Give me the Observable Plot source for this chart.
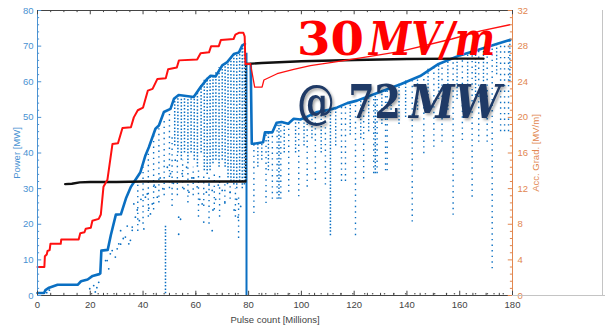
<!DOCTYPE html>
<html><head><meta charset="utf-8">
<script src="https://cdn.jsdelivr.net/npm/d3@7"></script>
<script src="https://cdn.jsdelivr.net/npm/@observablehq/plot@0.6"></script>
<style>
body{margin:0;background:#fff;}
#wrap{position:relative;width:605px;height:327px;overflow:hidden;background:#fff;}
.fr{position:absolute;background:#c4c4c4;}
</style></head><body><div id="wrap"></div>
<script>
// ---- tick labels ----
const xTicks = [0, 20, 40, 60, 80, 100, 120, 140, 160, 180];
const powerTicks = [0, 10, 20, 30, 40, 50, 60, 70, 80];
const gradTicks = [0, 4, 8, 12, 16, 20, 24, 28, 32];
const xMinor = [5,10,15,25,30,35,45,50,55,65,70,75,85,90,95,105,110,115,125,130,135,145,150,155,165,170,175];
const powerMinor = [2,4,6,8,12,14,16,18,22,24,26,28,32,34,36,38,42,44,46,48,52,54,56,58,62,64,66,68,72,74,76,78];
const gradMinor = [0.8,1.6,2.4,3.2,4.8,5.6,6.4,7.2,8.8,9.6,10.4,11.2,12.8,13.6,14.4,15.2,16.8,17.6,18.4,19.2,20.8,21.6,22.4,23.2,24.8,25.6,26.4,27.2,28.8,29.6,30.4,31.2];

// ---- accelerating gradient (red, MV/m) ----
const redX = [0, 2.6, 2.8, 3.5, 3.8, 4.6, 4.9, 8.8, 9.0, 15.6, 16.2, 17.8, 18.3, 20.2, 20.8, 23.2, 24.0, 25.0, 26.5, 28.4, 30.5, 32.2, 35.4, 36.5, 38.0, 40.0, 41.8, 43.6, 45.4, 48.6, 49.5, 52.8, 53.6, 60.5, 61.8, 65.0, 65.8, 68.7, 69.5, 74.3, 75.0, 76.3, 78.0, 78.5, 78.8, 80.7, 82.3, 85.1, 85.8, 90.8, 97.1, 103.4, 112.3, 124.9, 137.6, 157, 168, 179];
const redG = [3.2, 3.2, 4.4, 4.6, 5.0, 5.1, 5.8, 5.8, 6.3, 6.3, 7.0, 7.1, 7.5, 7.6, 8.4, 8.6, 9.1, 12.2, 13.0, 17.0, 17.1, 18.8, 18.9, 20.0, 20.8, 21.1, 23.0, 23.2, 24.3, 24.4, 25.4, 25.6, 26.4, 26.5, 27.2, 27.3, 28.0, 28.0, 28.7, 28.8, 29.3, 29.5, 29.5, 29.1, 26.0, 26.0, 23.4, 23.4, 24.2, 24.9, 25.4, 25.8, 26.2, 26.8, 27.4, 28.8, 29.7, 30.4];

// ---- gradient plateau (black, MV/m) ----
const blackX1 = [10.5, 13, 16, 20, 30, 40, 50, 60, 70, 78.8];
const blackG1 = [12.5, 12.55, 12.7, 12.75, 12.75, 12.8, 12.8, 12.8, 12.8, 12.8];
const blackX2 = [79.0, 85, 100, 120, 140, 160, 169];
const blackG2 = [26.0, 26.1, 26.3, 26.45, 26.55, 26.6, 26.6];

// ---- power envelope (blue, MW) ----
const powX1 = [0, 2.5, 3.0, 4.4, 7.6, 15.2, 16.5, 19, 20.9, 23.4, 23.8, 24.2, 26.6, 27.8, 29.7, 31.6, 33.5, 35.4, 36.7, 39, 40.9, 42.2, 44.7, 46, 47.9, 50.4, 51.7, 53.5, 59.2, 61.8, 64.3, 65.6, 67.5, 70, 71.9, 74.4, 76.3, 77.6, 78.6];
const powP1 = [0.7, 0.7, 1.5, 2.2, 3.0, 3.0, 4.0, 4.5, 5.5, 6.0, 6.2, 12.6, 12.8, 17, 22.7, 22.8, 27.2, 30.5, 32, 34.6, 39.3, 41.6, 46.8, 47.7, 51.5, 52.4, 55.2, 56.3, 55.7, 58.5, 60.8, 61.7, 61.5, 64.6, 65.5, 67.8, 68.2, 70.2, 70.6];
const powX2 = [80.8, 81.2, 82, 85.5, 86.2, 89, 90.6, 92.5, 95, 97.1, 99.6, 102.2, 106, 111, 113.6, 117.4, 121.1, 130, 137.6, 145, 152, 160, 168, 174, 179.2];
const powP2 = [65, 42.6, 42.6, 43, 45.8, 45.8, 48.5, 48.7, 48.2, 49.6, 49.4, 50.2, 51.5, 52.2, 52.8, 54, 54.7, 57.2, 59.3, 61.6, 65.0, 67.4, 69.2, 70.6, 71.8];

// ---- breakdown streaks of power samples: [pulse count, low MW, high MW] ----
const denseStreaks = [
  [52.0,42,55],[53.2,40,56],[54.5,38,55.5],[55.7,40,55.5],[57.0,37,55.5],[58.2,40,55.5],[59.4,38,56],[60.6,36,57],
  [62.0,40,59],[63.2,35,60.5],[64.3,34,61],[65.4,35,61.5],[66.5,37,62],[67.6,38,62.5],[68.8,36,64],[70.0,38,64.6],
  [71.1,36,65.3],[72.2,33,66],[73.3,32,67],[74.4,31,67.8],[75.5,30,68],[76.6,32,68.5],[77.6,30,70],[78.4,31,70.5],
  [48.5,0.5,19.5],[111.0,16.8,52.2],[91.5,27,48.6],[128.0,34.2,56]
];
const sparseStreaks = [
  [38,18,32],[40,20,36],[42,22,40],[44,24,45],[46,26,47],[48,28,50],[50,30,52],[51,25,45],[53,28,40],[55,30,38],
  [57,26,37],[59,28,36],[61,22,35],[63,25,34],[65,20,33],[67,24,35],[69,22,34],[71,26,32],[73,27,31],[75,22,30],[76.2,16,28],
  [82.0,23,42.5],[86.6,25.8,45.5],[89.0,27,45.8],[90.8,27,48.5],[92.2,27,48.7],[95.2,29,48.2],[99.0,27.7,49.4],
  [102.2,30.4,50.1],[105.3,32.3,51.3],[109.1,31,52],[115.2,32,53.3],[116.7,32,53.6],[120.5,16.8,54.5],[123.6,32.7,55],
  [127.4,34.2,56],[128.7,34.2,56.2],[131.9,35,57.5],[132.5,35,57.8],[142.0,20.6,61.5],[146.4,39.8,63],[150.2,41.6,64.3],
  [153.3,43,65.5],[157.5,22.5,66.6],[161.0,43.5,67.7],[164.7,27.6,68.5],[167.2,43,69],[170.4,43,69.8],[172.3,7.5,70.2],
  [175.5,46,70.9],[177,46,71.2],[178.5,46,71.5]
];
const bandStreaks = [
  [83.5,36,42.6],[85,38,43],[87.5,35,45.8],[93.5,40,48.5],[97.8,40,49.5],[101,42,50],[104,44,51],[107.5,40,51.8],
  [113,42,52.6],[118.5,45,54.2],[122.5,44,55],[125.5,46,56],[130.5,48,57.3],[134,50,58.5],[137,48,59.3],[139.5,50,60.2],
  [144,52,61.4],[148,54,63.5],[152,55,65],[155.5,52,66],[159,55,67],[163,58,68],[166,56,68.8],[169,60,69.5],[174,62,70.6],[179,60,71.8]
];
// ---- isolated power samples: [pulse count, MW] ----
const dotX = [19.8,21.3,21.9,23.2,22.5,25.8,26.4,27.0,27.6,28.3,29.5,30.2,30.8,31.5,31.5,32.5,33.3,34.0,34.6,35.2,35.9,35.9,36.5,37.1,37.8,38.6,39.2,40.3,40.9,41.6,42.2,42.8,43.5,44.2,44.7,45.4,46.5,47.5,49.2,50.4,51.5,52.2,53.5,53.5,54.2,54.8,55.5,56.5,57.4,58.5,59.2,60.5,61.5,62.4,63.0,64,65,66.2,66.2,66.5,67.5,68.5,70.0,71,72,73,74.5,75.5,76,77,3.5,4.5];
const dotP = [1.9,2.8,1.0,3.7,2.2,9.8,9.8,7.5,11.7,12.6,10.8,13.1,14.5,18.2,14.4,16.0,16.4,19.5,14.5,15.5,18.3,19.2,25.7,22.0,24.0,21,27,18.7,27.6,28.5,24.5,22.9,25.7,31,30.4,27.6,33,30,36,34.2,31.5,38,22.0,17.2,21.4,34.2,30,36,29.0,33,33.0,30.5,27,25.7,20.6,29,31,18.2,29.5,24,27,31,29.5,26,31.5,29,24,27,22,25,0.8,1.5];
const baseX = [20.5,23,26.5,29,33,36.5,41,44,48,52.5,57,60,64.5,68,72.5,76,84,86.5,91,95.5,99,103,107.5,112,115,119.5,124,127,131.5,135,139.5,143,147,150.5,155,158,162.5,166,170.5,173,176.5];

const K = 80 / 32; // MW per MV/m on the shared vertical axis
const BLUE = "#0a6fc2", LB = "#4a92d2", OR = "#e2874f", AX = "#444";
const pts = (xs, ys) => xs.map((x, i) => ({x, y: ys[i]}));
const red = pts(redX, redG.map(g => g * K));
const redA = red.filter(d => d.x <= 80.7), redB = red.filter(d => d.x >= 80.7);
const black1 = pts(blackX1, blackG1.map(g => g * K));
const black2 = pts(blackX2, blackG2.map(g => g * K));
const pow1 = pts(powX1, powP1), pow2 = pts(powX2, powP2);
const dots = pts(dotX, dotP);
const base = baseX.map(x => ({x, y: 0.5}));
const sx = d => d[0], sy1 = d => d[1], sy2 = d => d[2];

const chart = Plot.plot({
  width: 605, height: 327,
  marginTop: 10, marginBottom: 32, marginLeft: 37, marginRight: 93,
  x: {domain: [0, 180]},
  y: {domain: [0, 80]},
  style: {fontFamily: "'Liberation Sans', Arial, sans-serif", fontSize: "9.5px", background: "white"},
  marks: [
    Plot.ruleX(sparseStreaks, {x: sx, y1: sy1, y2: sy2, stroke: BLUE, strokeWidth: 1.4, strokeDasharray: "1.4,4.2"}),
    Plot.ruleX(bandStreaks, {x: sx, y1: sy1, y2: sy2, stroke: BLUE, strokeWidth: 1.4, strokeDasharray: "1.4,2.2"}),
    Plot.ruleX(denseStreaks, {x: sx, y1: sy1, y2: sy2, stroke: BLUE, strokeWidth: 1.5, strokeDasharray: "1.5,1.8"}),
    Plot.dot(dots, {x: "x", y: "y", r: 0.9, fill: BLUE}),
    Plot.dot(base, {x: "x", y: "y", r: 0.8, fill: "#555"}),
    Plot.ruleX([79.2], {y1: 0, y2: 68, stroke: BLUE, strokeWidth: 2}),
    Plot.line(pow1, {x: "x", y: "y", stroke: BLUE, strokeWidth: 2.6}),
    Plot.line(pow2, {x: "x", y: "y", stroke: BLUE, strokeWidth: 2.6}),
    Plot.ruleX([78.9], {y1: blackG1[blackG1.length - 1] * K, y2: blackG2[0] * K, stroke: "#111", strokeWidth: 1.5, strokeDasharray: "1.5,1.5"}),
    Plot.line(black1, {x: "x", y: "y", stroke: "#111", strokeWidth: 2.4}),
    Plot.line(black2, {x: "x", y: "y", stroke: "#111", strokeWidth: 2.4}),
    Plot.line(redA, {x: "x", y: "y", stroke: "#ff1010", strokeWidth: 2}),
    Plot.line(redB, {x: "x", y: "y", stroke: "#ff1010", strokeWidth: 1.3}),
    // frame
    Plot.ruleY([80], {stroke: AX, strokeWidth: 1}),
    Plot.ruleY([0], {stroke: AX, strokeWidth: 1}),
    Plot.ruleX([0], {stroke: LB, strokeWidth: 1}),
    Plot.ruleX([180], {stroke: OR, strokeWidth: 1}),
    // inward ticks
    Plot.ruleY(powerTicks, {x1: 0, x2: 1.6, stroke: LB}),
    Plot.ruleY(powerMinor, {x1: 0, x2: 0.8, stroke: LB}),
    Plot.ruleY(gradTicks.map(g => g * K), {x1: 178.4, x2: 180, stroke: OR}),
    Plot.ruleY(gradMinor.map(g => g * K), {x1: 179.2, x2: 180, stroke: OR}),
    Plot.ruleX(xTicks, {y1: 0, y2: 1.2, stroke: AX}),
    Plot.ruleX(xMinor, {y1: 0, y2: 0.6, stroke: AX}),
    Plot.ruleX(xTicks, {y1: 80, y2: 78.8, stroke: AX}),
    Plot.ruleX(xMinor, {y1: 80, y2: 79.4, stroke: AX}),
    // axes
    Plot.axisY(powerTicks, {anchor: "left", tickSize: 0, tickPadding: 4, color: LB,
      label: "Power [MW]", labelAnchor: "center", labelOffset: 24, labelArrow: "none"}),
    Plot.axisY(gradTicks.map(g => g * K), {anchor: "right", tickSize: 0, tickPadding: 5, color: OR,
      tickFormat: d => String(Math.round(d / K)),
      label: "Acc. Grad. [MV/m]", labelAnchor: "center", labelOffset: 26, labelArrow: "none"}),
    Plot.axisX(xTicks, {anchor: "bottom", tickSize: 0, tickPadding: 6, color: AX,
      label: "Pulse count [Millions]", labelAnchor: "center", labelOffset: 27, labelArrow: "none"})
  ]
});

const wrap = document.getElementById("wrap");
wrap.appendChild(chart);

// annotation text: upright digits, italic unit letters; width fitted by horizontal scaling
const svg = d3.select(chart);
const note = (txt, x, y, len, size, fill, italic, shadow) => {
  const t = svg.append("text").attr("transform", `translate(${x},${y})`).attr("text-anchor", "start")
    .attr("font-family", "'DejaVu Serif', serif").attr("font-weight", "bold")
    .attr("font-style", italic ? "italic" : "normal").attr("font-size", size)
    .attr("fill", fill).text(txt);
  const w = t.node().getComputedTextLength();
  t.attr("transform", `translate(${x},${y}) scale(${len / w},1)`);
  if (shadow) t.style("filter", "drop-shadow(2px 2px 1.5px rgba(0,0,0,0.35))");
};
note("30", 297, 55, 67, 46, "#ff0000", false, false);
note("MV/m", 369, 55, 126, 46, "#ff0000", true, false);
note("@ 72", 297, 118, 104, 47, "#1f3a66", false, true);
note("MW", 409, 118, 92, 47, "#1f3a66", true, true);

// faint frame of the neighbouring panel on the slide
const f1 = document.createElement("div"); f1.className = "fr";
Object.assign(f1.style, {left: "602px", top: "10px", width: "1px", height: "286px"});
const f2 = document.createElement("div"); f2.className = "fr";
Object.assign(f2.style, {left: "512px", top: "295px", width: "93px", height: "1px"});
wrap.appendChild(f1); wrap.appendChild(f2);
</script></body></html>
